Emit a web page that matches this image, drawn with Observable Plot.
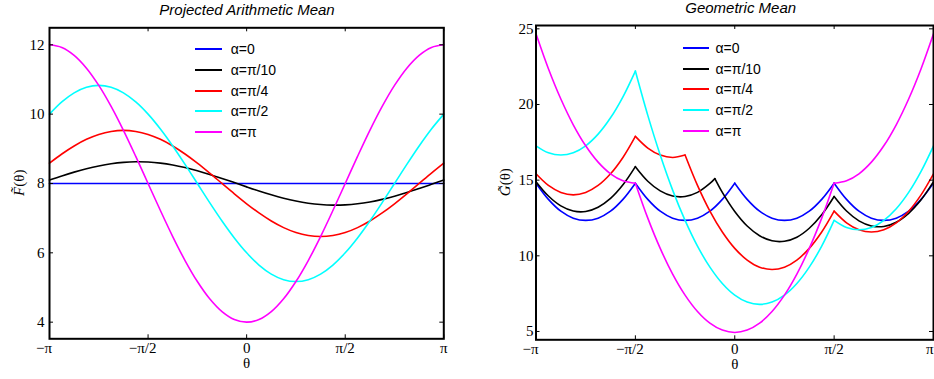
<!DOCTYPE html>
<html><head><meta charset="utf-8">
<script src="https://cdn.jsdelivr.net/npm/d3@7"></script>
<script src="https://cdn.jsdelivr.net/npm/@observablehq/plot@0.6"></script>
<style>
body{margin:0;background:#fff;}
#wrap{position:relative;width:934px;height:379px;overflow:hidden;background:#fff;}
.panel{position:absolute;top:0;}
.title{position:absolute;font-family:"Liberation Sans",Arial,sans-serif;font-style:italic;font-size:15px;white-space:nowrap;transform:translate(-50%,-50%);line-height:18px;}
.legtext{position:absolute;font-family:"Liberation Sans",Arial,sans-serif;font-size:14px;line-height:16px;white-space:nowrap;}
.legline{position:absolute;height:0;border-top:2px solid #000;}
</style></head><body><div id="wrap"></div>
<script>
// ---------- data ----------
const seriesNames = ["α=0", "α=π/10", "α=π/4", "α=π/2", "α=π"];
const seriesColors = ["#0000ff", "#000000", "#ff0000", "#00ffff", "#ff00ff"];

// θ in units of π (step π/16)
const thetaGrid = [-1, -0.9375, -0.875, -0.8125, -0.75, -0.6875, -0.625, -0.5625, -0.5, -0.4375, -0.375, -0.3125, -0.25, -0.1875, -0.125, -0.0625, 0,
  0.0625, 0.125, 0.1875, 0.25, 0.3125, 0.375, 0.4375, 0.5, 0.5625, 0.625, 0.6875, 0.75, 0.8125, 0.875, 0.9375, 1];

const xTickValues = [-1, -0.5, 0, 0.5, 1];
const xTickLabels = ["−π", "−π/2", "0", "π/2", "π"];
const fTicks = [4, 6, 8, 10, 12];
const gTicks = [5, 10, 15, 20, 25];

// Projected Arithmetic Mean  F(θ)
const fAlpha0 = [8, 8, 8, 8, 8, 8, 8, 8, 8, 8, 8, 8, 8, 8, 8, 8, 8, 8, 8, 8, 8, 8, 8, 8, 8, 8, 8, 8, 8, 8, 8, 8, 8];
const fAlphaPi10 = [8.098, 8.217, 8.327, 8.425, 8.506, 8.568, 8.608, 8.625, 8.618, 8.587, 8.534, 8.460, 8.368, 8.262, 8.146, 8.025, 7.902,
  7.783, 7.673, 7.575, 7.494, 7.432, 7.392, 7.375, 7.382, 7.413, 7.467, 7.541, 7.632, 7.738, 7.854, 7.975, 8.098];
const fAlphaPi4 = [8.586, 8.850, 9.082, 9.273, 9.414, 9.501, 9.531, 9.501, 9.414, 9.273, 9.082, 8.850, 8.586, 8.299, 8.000, 7.701, 7.414,
  7.150, 6.918, 6.727, 6.586, 6.499, 6.469, 6.499, 6.586, 6.727, 6.918, 7.150, 7.414, 7.701, 8.000, 8.299, 8.586];
const fAlphaPi2 = [10.000, 10.352, 10.613, 10.774, 10.828, 10.774, 10.613, 10.352, 10.000, 9.571, 9.082, 8.552, 8.000, 7.448, 6.918, 6.429, 6.000,
  5.648, 5.387, 5.226, 5.172, 5.226, 5.387, 5.648, 6.000, 6.429, 6.918, 7.448, 8.000, 8.552, 9.082, 9.571, 10.000];
const fAlphaPi = [12.000, 11.923, 11.696, 11.326, 10.828, 10.222, 9.531, 8.780, 8.000, 7.220, 6.469, 5.778, 5.172, 4.674, 4.304, 4.077, 4.000,
  4.077, 4.304, 4.674, 5.172, 5.778, 6.469, 7.220, 8.000, 8.780, 9.531, 10.222, 10.828, 11.326, 11.696, 11.923, 12.000];

// Geometric Mean  G(θ)
const gAlpha0 = [14.80, 13.73, 12.95, 12.49, 12.34, 12.49, 12.95, 13.73, 14.80, 13.73, 12.95, 12.49, 12.34, 12.49, 12.95, 13.73, 14.80,
  13.73, 12.95, 12.49, 12.34, 12.49, 12.95, 13.73, 14.80, 13.73, 12.95, 12.49, 12.34, 12.49, 12.95, 13.73, 14.80];
const gAlphaPi10 = [14.90, 13.95, 13.30, 12.96, 12.93, 13.21, 13.79, 14.69, 15.89, 14.93, 14.29, 13.95, 13.92, 14.19, 14.78, 14.19, 12.93,
  11.97, 11.33, 10.99, 10.96, 11.23, 11.82, 12.71, 13.92, 12.96, 12.31, 11.97, 11.94, 12.22, 12.81, 13.70, 14.90];
const gAlphaPi10Kink = {t: -0.1, v: 15.10};
const gAlphaPi4 = [15.42, 14.65, 14.19, 14.03, 14.19, 14.65, 15.42, 16.50, 17.89, 17.12, 16.66, 16.50, 16.66, 14.65, 12.95, 11.57, 10.49,
  9.72, 9.25, 9.10, 9.25, 9.72, 10.49, 11.57, 12.95, 12.18, 11.72, 11.57, 11.72, 12.18, 12.95, 14.03, 15.42];
const gAlphaPi2 = [17.27, 16.81, 16.66, 16.81, 17.27, 18.04, 19.12, 20.51, 22.21, 19.28, 16.66, 14.34, 12.34, 10.64, 9.25, 8.17, 7.40,
  6.94, 6.79, 6.94, 7.40, 8.17, 9.25, 10.64, 12.34, 11.87, 11.72, 11.87, 12.34, 13.11, 14.19, 15.58, 17.27];
const gAlphaPi = [24.67, 22.36, 20.36, 18.66, 17.27, 16.19, 15.42, 14.96, 14.80, 12.49, 10.49, 8.79, 7.40, 6.32, 5.55, 5.09, 4.93,
  5.09, 5.55, 6.32, 7.40, 8.79, 10.49, 12.49, 14.80, 14.96, 15.42, 16.19, 17.27, 18.66, 20.36, 22.36, 24.67];
// kinks (θ/π) of each G curve
const gKinks = [[-0.5, 0, 0.5], [-0.5, -0.1, 0.5], [-0.5, -0.25, 0.5], [-0.5, 0.5], [-0.5, 0.5]];

// ---------- build tables ----------
function buildRows(series, kinks, extras) {
  const rows = [];
  series.forEach((vals, s) => {
    let pts = thetaGrid.map((t, i) => ({t, v: vals[i]}));
    if (extras && extras[s]) pts = pts.concat(extras[s]);
    pts.sort((a, b) => a.t - b.t);
    let seg = 0;
    for (const p of pts) {
      rows.push({name: seriesNames[s], key: s + "-" + seg, t: p.t, v: p.v});
      if (kinks && kinks[s].includes(p.t)) {
        seg++;
        rows.push({name: seriesNames[s], key: s + "-" + seg, t: p.t, v: p.v});
      }
    }
  });
  return rows;
}
const fRows = buildRows([fAlpha0, fAlphaPi10, fAlphaPi4, fAlphaPi2, fAlphaPi], null, null);
const gRows = buildRows([gAlpha0, gAlphaPi10, gAlphaPi4, gAlphaPi2, gAlphaPi], gKinks, [null, [gAlphaPi10Kink], null, null, null]);

const wrap = document.getElementById("wrap");

function panel(opts) {
  const W = 467, H = 379;
  const iw = W - opts.ml - opts.mr, ih = H - opts.mt - opts.mb;
  const labs = xTickValues.map((v, i) => ({v, l: xTickLabels[i]}));
  const neg = labs.filter(d => d.l.startsWith("−"));
  const mid = labs.filter(d => !d.l.startsWith("−") && !(opts.lastEnd && d.v === 1));
  const last = labs.filter(d => opts.lastEnd && d.v === 1);
  const svg = Plot.plot({
    width: W, height: H,
    marginLeft: opts.ml, marginRight: opts.mr, marginTop: opts.mt, marginBottom: opts.mb,
    style: {fontFamily: "'Liberation Serif','Times New Roman',serif", fontSize: "15px", background: "transparent", overflow: "visible", color: "#000"},
    x: {domain: [-1, 1], axis: null},
    y: {domain: opts.ydomain, ticks: opts.yticks, tickSize: 0, tickPadding: opts.ypad, label: null, tickFormat: d => String(d)},
    color: {domain: seriesNames, range: seriesColors},
    marks: [
      Plot.line(opts.rows, {x: "t", y: "v", z: "key", stroke: "name", strokeWidth: 1.6, curve: "catmull-rom"}),
      Plot.ruleX(xTickValues, {x: d => d, insetTop: ih - 4, stroke: "#000", strokeWidth: 1}),
      Plot.ruleX(xTickValues, {x: d => d, insetBottom: ih - 4, stroke: "#000", strokeWidth: 1}),
      Plot.ruleY(opts.yticks, {y: d => d, insetLeft: iw - 4, stroke: "#000", strokeWidth: 1}),
      Plot.ruleY(opts.yticks, {y: d => d, insetRight: iw - 4, stroke: "#000", strokeWidth: 1}),
      Plot.frame({stroke: "#000", strokeWidth: 2}),
      Plot.text(neg, {x: "v", text: "l", frameAnchor: "bottom", dy: 14.2, dx: -5.5, fill: "#000"}),
      Plot.text(mid, {x: "v", text: "l", frameAnchor: "bottom", dy: 14.2, fill: "#000"}),
      Plot.text(last, {x: "v", text: "l", frameAnchor: "bottom", dy: 14.2, textAnchor: "end", dx: 0, fill: "#000"}),
      Plot.text(["θ"], {frameAnchor: "bottom", dy: 28.7, fill: "#000"})
    ]
  });
  svg.classList.add("panel");
  svg.style.left = opts.left + "px";
  // y-axis label with tilde
  const lbl = d3.select(svg).append("text")
    .attr("transform", `translate(${opts.labx},${opts.mt + ih / 2}) rotate(-90)`)
    .attr("text-anchor", "middle")
    .style("font-family", "'Liberation Serif','Times New Roman',serif")
    .style("font-size", "15px").attr("fill", "#000");
  lbl.append("tspan").style("font-style", "italic").text(opts.ylab + "\u0303");
  lbl.append("tspan").text("(θ)");
  wrap.appendChild(svg);

  // title
  const t = document.createElement("div");
  t.className = "title";
  t.textContent = opts.title;
  t.style.left = opts.tx + "px";
  t.style.top = opts.ty + "px";
  wrap.appendChild(t);

  // legend
  seriesNames.forEach((n, i) => {
    const y = opts.legY + i * 20.7;
    const ln = document.createElement("div");
    ln.className = "legline";
    ln.style.left = opts.legX1 + "px";
    ln.style.width = (opts.legX2 - opts.legX1) + "px";
    ln.style.top = (y - 1) + "px";
    ln.style.borderTopColor = seriesColors[i];
    wrap.appendChild(ln);
    const tx = document.createElement("div");
    tx.className = "legtext";
    tx.textContent = n;
    tx.style.left = opts.legT + "px";
    tx.style.top = (y - 8) + "px";
    wrap.appendChild(tx);
  });
}

panel({left: 0, ml: 49, mr: 23.7, mt: 27.3, mb: 40.7, ydomain: [3.52, 12.49], yticks: fTicks, ypad: 5,
  rows: fRows, labx: 23.5, ylab: "F", title: "Projected Arithmetic Mean", tx: 247, ty: 10,
  legY: 49.3, legX1: 195, legX2: 222, legT: 230.7, lastEnd: false});
panel({left: 467, ml: 68.5, mr: 1, mt: 25, mb: 39.7, ydomain: [4.45, 25.22], yticks: gTicks, ypad: 2.5,
  rows: gRows, labx: 43.3, ylab: "G", title: "Geometric Mean", tx: 740.7, ty: 7.5,
  legY: 48, legX1: 682.7, legX2: 709.3, legT: 715.5, lastEnd: true});
</script></body></html>
